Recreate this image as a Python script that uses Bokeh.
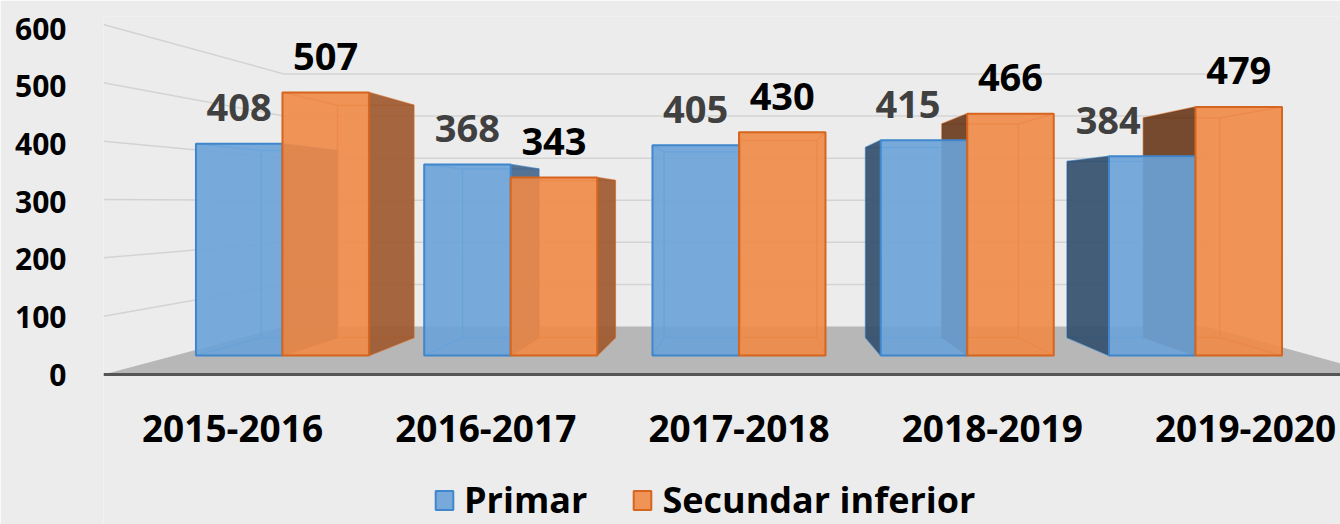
from bokeh.plotting import figure
from bokeh.models import Range1d, LinearAxis, FixedTicker, Legend, LegendItem, ColumnDataSource
from bokeh.embed import file_html
from bokeh.resources import INLINE
from bokeh.core.properties import value

# ---------------- data ----------------
years = ["2015-2016", "2016-2017", "2017-2018", "2018-2019", "2019-2020"]
primar = [408, 368, 405, 415, 384]
secundar = [507, 343, 430, 466, 479]
series_names = ["Primar", "Secundar inferior"]
wall_ticks = [0, 100, 200, 300, 400, 500, 600]

# ---------------- styles / layout ----------------
FONT = "Open Sans"
BG = "#ececec"
W, H = 1340, 524
ML, MR, MT, MB = 103, 0, 16, 0
FW, FH = W - ML - MR, H - MT - MB

X0, X1 = -0.784, 4.6353          # main (front plane) x range
Y0, Y1 = -325.6, 653.2           # main (front plane) y range
WALL0, WALL1 = -260.4, 621.5     # range used by value axis labels
LAB0, LAB1 = -0.5094, 4.375      # range used by category labels
PX_X = FW / (X1 - X0)
PX_Y = FH / (Y1 - Y0)

# perspective
VX, VY = 2.055, 295.6
S_BAR = 0.8826
S_FLOOR_FRONT, S_FLOOR_BACK = 1.124, 0.811
X_LEFT, X_RIGHT = -0.471, 4.51
BAR_W = 0.379

colors = {
    "front": ["#6aa3d9", "#ef8a47"],
    "edge": ["#3f86cc", "#d5651f"],
    "side_left": ["#34506e", "#6a3c1e"],
    "side_right": ["#46688c", "#9e5a30"],
}
label_colors = ["#404040", "#000000"]
label_dx_px = [[0, 0, 0, -16, -44], [0, 0, 0, 0, 0]]
LABEL_GAP_PX = 36
CAT_GAP_PX = 54


def proj(x, v, s):
    return VX + s * (x - VX), VY + s * (v - VY)


p = figure(width=W, height=H, output_backend="svg", toolbar_location=None,
           x_range=Range1d(X0, X1), y_range=Range1d(Y0, Y1),
           x_axis_location=None, y_axis_location=None,
           min_border_left=ML, min_border_right=MR, min_border_top=MT, min_border_bottom=MB)
p.background_fill_color = BG
p.border_fill_color = BG
p.outline_line_color = None
p.grid.visible = False
p.extra_y_ranges = {"wall": Range1d(WALL0, WALL1)}
p.extra_x_ranges = {"lab": Range1d(LAB0, LAB1)}

# ---------------- floor ----------------
fl = [proj(X_LEFT, 0, S_FLOOR_FRONT), proj(X_RIGHT, 0, S_FLOOR_FRONT),
      proj(X_RIGHT, 0, S_FLOOR_BACK), proj(X_LEFT, 0, S_FLOOR_BACK)]
p.patch([c[0] for c in fl], [c[1] for c in fl], fill_color="#b7b7b7", line_color=None)

# ---------------- wall gridlines ----------------
gx, gy = [], []
for v in wall_ticks[1:]:
    a = proj(X_LEFT, v, S_FLOOR_FRONT)
    b = proj(X_LEFT, v, S_FLOOR_BACK)
    c = proj(X_RIGHT, v, S_FLOOR_BACK)
    gx.append([a[0], b[0], c[0]])
    gy.append([a[1], b[1], c[1]])
p.multi_line(gx, gy, line_color="#d3d3d3", line_width=1.5)

# floor front edge
fa, fb = proj(X_LEFT, 0, S_FLOOR_FRONT), proj(X_RIGHT, 0, S_FLOOR_FRONT)
p.line([fa[0], fb[0]], [fa[1], fb[1]], line_color="#555555", line_width=3)

# ---------------- bars ----------------
bars = []
for i in range(len(years)):
    for k, vals in enumerate([primar, secundar]):
        x0 = i - BAR_W if k == 0 else i
        bars.append((i, k, x0, x0 + BAR_W, vals[i]))

bars_sorted = sorted(bars, key=lambda b: -abs((b[2] + b[3]) / 2 - VX))

edge_x = [[], []]
edge_y = [[], []]
side_xs, side_ys, side_col = [], [], []
for (i, k, x0, x1, v) in bars_sorted:
    b00 = proj(x0, 0, S_BAR); b10 = proj(x1, 0, S_BAR)
    b11 = proj(x1, v, S_BAR); b01 = proj(x0, v, S_BAR)
    edge_x[k].append([b00[0], b10[0], b11[0], b01[0], b00[0]])
    edge_y[k].append([b00[1], b10[1], b11[1], b01[1], b00[1]])
    for (fx, fv, bc) in [(x0, 0, b00), (x1, 0, b10), (x1, v, b11), (x0, v, b01)]:
        edge_x[k].append([fx, bc[0]])
        edge_y[k].append([fv, bc[1]])
    if x0 > VX:
        side_xs.append([x0, x0, b01[0], b00[0]]); side_ys.append([0, v, b01[1], b00[1]])
        side_col.append(colors["side_left"][k])
    if x1 < VX:
        side_xs.append([x1, x1, b11[0], b10[0]]); side_ys.append([0, v, b11[1], b10[1]])
        side_col.append(colors["side_right"][k])

for k in range(2):
    p.multi_line(edge_x[k], edge_y[k], line_color=colors["edge"][k], line_width=1.5, line_alpha=0.7)
p.patches(side_xs, side_ys, fill_color=side_col, fill_alpha=0.92, line_color=None)

front_renderers = []
for k, vals in enumerate([primar, secundar]):
    left = [i - BAR_W if k == 0 else i for i in range(len(years))]
    src = ColumnDataSource(dict(left=left, right=[l + BAR_W for l in left],
                                top=vals, bottom=[0] * len(vals)))
    front_renderers.append(p.quad(left="left", right="right", top="top", bottom="bottom", source=src,
                                  fill_color=colors["front"][k], fill_alpha=0.9,
                                  line_color=colors["edge"][k], line_width=2))

# ---------------- value labels ----------------
for k, vals in enumerate([primar, secundar]):
    xs = [(i - BAR_W / 2 if k == 0 else i + BAR_W / 2) + label_dx_px[k][i] / PX_X
          for i in range(len(years))]
    ys = [v + LABEL_GAP_PX / PX_Y for v in vals]
    p.text(xs, ys, text=[str(v) for v in vals], text_font=value(FONT),
           text_font_style="bold", text_font_size="38px", text_color=label_colors[k],
           text_align="center", text_baseline="middle")

# ---------------- category labels (front edge of the floor) ----------------
floor_front_y = proj(0, 0, S_FLOOR_FRONT)[1]
p.text(list(range(len(years))), [floor_front_y - CAT_GAP_PX / PX_Y] * len(years), text=years,
       x_range_name="lab", text_font=value(FONT), text_font_style="bold",
       text_font_size="37px", text_color="#000000", text_align="center", text_baseline="middle")

# ---------------- value axis ----------------
yax = LinearAxis(y_range_name="wall", ticker=FixedTicker(ticks=wall_ticks))
yax.axis_line_color = None
yax.major_tick_line_color = None
yax.minor_tick_line_color = None
yax.major_label_standoff = 31
yax.major_label_text_font = FONT
yax.major_label_text_font_style = "bold"
yax.major_label_text_font_size = "30px"
yax.major_label_text_color = "#000000"
p.add_layout(yax, "left")

# ---------------- legend ----------------
legend = Legend(items=[LegendItem(label=series_names[k], renderers=[front_renderers[k]]) for k in range(2)],
                orientation="horizontal", location=(330, 0))
legend.label_text_font = FONT
legend.label_text_font_style = "bold"
legend.label_text_font_size = "36px"
legend.label_text_color = "#000000"
legend.glyph_width = 22
legend.glyph_height = 24
legend.label_standoff = 9
legend.spacing = 44
legend.padding = 0
legend.margin = 0
legend.background_fill_alpha = 0
legend.border_line_alpha = 0
p.add_layout(legend, "center")

open("out.html", "w").write(file_html(p, INLINE))
